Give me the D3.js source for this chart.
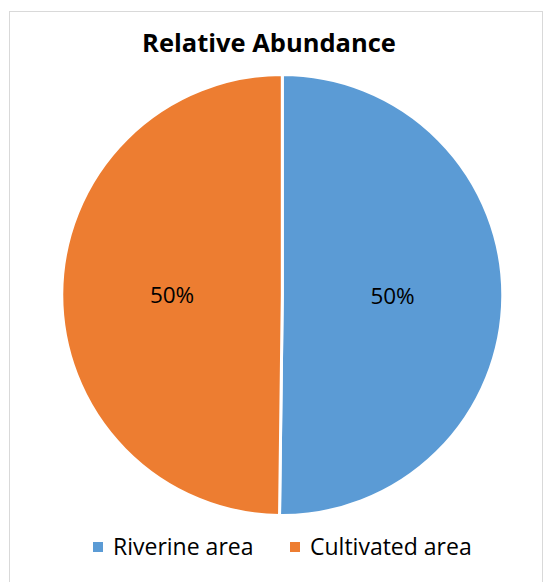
<!DOCTYPE html>
<html>
<head>
<meta charset="utf-8">
<script src="https://cdn.jsdelivr.net/npm/d3@7"></script>
<style>
  body { margin: 0; background: #fff; }
  svg { display: block; font-family: "Open Sans", sans-serif; }
</style>
</head>
<body>
<svg width="543" height="582"></svg>
<script>
    var categories = ["Riverine area", "Cultivated area"];
    var values = [50.2, 49.8];
    var labels = ["50%", "50%"];
    var colors = ["#5b9bd5", "#ed7d31"];

    var svg = d3.select("svg");
    var cx = 282.3, cy = 295, radius = 220.5;

    // chart frame
    svg.append("rect")
        .attr("x", 9.5).attr("y", 11.5)
        .attr("width", 533).attr("height", 600)
        .attr("fill", "none")
        .attr("stroke", "#d9d9d9");

    svg.append("text")
        .attr("x", 269).attr("y", 52)
        .attr("text-anchor", "middle")
        .attr("font-size", 25.5)
        .attr("font-weight", "bold")
        .attr("fill", "#000")
        .text("Relative Abundance");

    var pie = d3.pie().sort(null).value(function(d) { return d; });
    var arc = d3.arc().innerRadius(0).outerRadius(radius);
    var arcs = pie(values);

    var g = svg.append("g").attr("transform", "translate(" + cx + "," + cy + ")");
    g.selectAll("path")
        .data(arcs)
        .enter().append("path")
        .attr("d", arc)
        .attr("fill", function(d, i) { return colors[i]; })
        .attr("stroke", "#fff")
        .attr("stroke-width", 3);

    g.selectAll("text")
        .data(arcs)
        .enter().append("text")
        .attr("transform", function(d) {
            var c = arc.centroid(d);
            return "translate(" + c[0] + "," + (c[1] + 8.5) + ")";
        })
        .attr("text-anchor", "middle")
        .attr("font-size", 22.5)
        .attr("fill", "#000")
        .text(function(d, i) { return labels[i]; });

    // legend
    var legendX = [93, 290];
    var legend = svg.selectAll("g.legend")
        .data(categories)
        .enter().append("g")
        .attr("class", "legend")
        .attr("transform", function(d, i) { return "translate(" + legendX[i] + ",542)"; });
    legend.append("rect")
        .attr("width", 10).attr("height", 10)
        .attr("fill", function(d, i) { return colors[i]; });
    legend.append("text")
        .attr("x", 20).attr("y", 13)
        .attr("font-size", 23)
        .attr("fill", "#000")
        .text(function(d) { return d; });
</script>
</body>
</html>
